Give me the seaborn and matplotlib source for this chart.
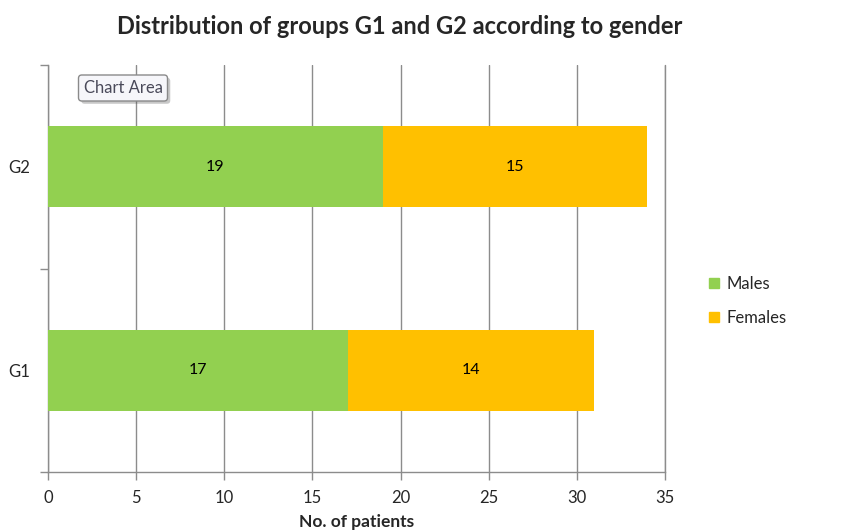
import matplotlib
matplotlib.use("Agg")
import matplotlib.pyplot as plt
import matplotlib.patheffects as pe
from matplotlib.lines import Line2D
import pandas as pd
import seaborn as sns

groups = ["G2", "G1"]
males = [19, 17]
females = [15, 14]
x_ticks = [0, 5, 10, 15, 20, 25, 30, 35]

green = "#92D050"
orange = "#FFC000"
grid_col = "#8c8c8c"

sns.set_style("white")
plt.rcParams["font.family"] = ["Lato", "DejaVu Sans"]

df = pd.DataFrame({"group": groups, "Males": males, "Females": females})
df["total"] = df["Males"] + df["Females"]

fig = plt.figure(figsize=(8.49, 5.32), dpi=100)
ax = fig.add_axes([48 / 849, 1 - 472 / 532, 617 / 849, 407 / 532])

sns.barplot(data=df, x="total", y="group", order=groups, color=orange,
            width=0.4, saturation=1, linewidth=0, ax=ax, zorder=3)
sns.barplot(data=df, x="Males", y="group", order=groups, color=green,
            width=0.4, saturation=1, linewidth=0, ax=ax, zorder=3)

for i, (m, f) in enumerate(zip(males, females)):
    ax.text(m / 2, i, str(m), ha="center", va="center", fontsize=11.5, color="black", zorder=4)
    ax.text(m + f / 2, i, str(f), ha="center", va="center", fontsize=11.5, color="black", zorder=4)

ax.set_xlim(0, 35)
ax.set_ylim(1.5, -0.5)
ax.set_xticks(x_ticks)
ax.set_xticklabels([str(t) for t in x_ticks], fontsize=12)
ax.tick_params(axis="x", length=6, width=1, color=grid_col, pad=7, direction="out", bottom=True)
ax.set_yticks([0, 1])
ax.set_yticklabels(groups, fontsize=12)
ax.set_yticks([-0.5, 0.5, 1.5], minor=True)
ax.tick_params(axis="y", which="major", length=0, pad=13)
ax.tick_params(axis="y", which="minor", length=6, width=1, color=grid_col, left=True)
ax.xaxis.grid(True, color=grid_col, linewidth=1, zorder=0)
ax.axvline(35, color=grid_col, linewidth=1, clip_on=False, zorder=0)
ax.set_axisbelow(True)
for s in ["top", "right"]:
    ax.spines[s].set_visible(False)
for s in ["left", "bottom"]:
    ax.spines[s].set_color(grid_col)
    ax.spines[s].set_linewidth(1)
ax.set_ylabel("")
ax.set_xlabel("No. of patients", fontsize=12.5, fontweight="bold", labelpad=6)

fig.text(400 / 849, 1 - 27 / 532, "Distribution of groups G1 and G2 according to gender",
         ha="center", va="center", fontsize=17, fontweight="bold")

t = fig.text(123 / 849, 1 - 88 / 532, "Chart Area", ha="center", va="center",
             fontsize=12, color="#4a4a5a",
             bbox=dict(boxstyle="round,pad=0.3,rounding_size=0.2", facecolor="#f6f6fa",
                       edgecolor="#8a8a8a", linewidth=1))
t.get_bbox_patch().set_path_effects([pe.withSimplePatchShadow(offset=(2, -2), alpha=0.3)])

handles = [Line2D([], [], marker="s", linestyle="none", markersize=7,
                  markerfacecolor=c, markeredgecolor=c) for c in [green, orange]]
fig.legend(handles, ["Males", "Females"], loc="center left",
           bbox_to_anchor=(691 / 849, 1 - 301 / 532), frameon=False, fontsize=12,
           handletextpad=0.2, labelspacing=1.1, handlelength=1)

fig.savefig("out.png", dpi=100)
